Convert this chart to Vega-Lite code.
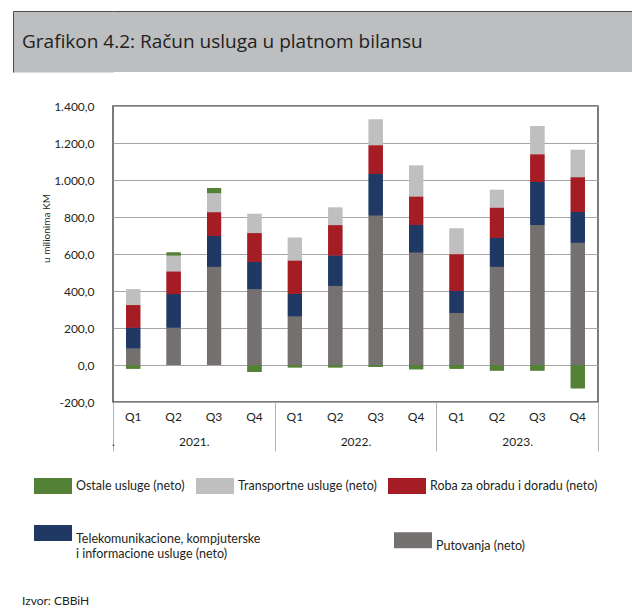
{
  "$schema": "https://vega.github.io/schema/vega-lite/v6.json",
  "padding": {"left": 12, "top": 10, "right": 0, "bottom": 0},
  "autosize": {"type": "pad"},
  "spacing": 24,
  "config": {
    "font": "Lato",
    "locale": {"number": {"decimal": ",", "thousands": ".", "grouping": [3], "currency": ["", ""], "minus": "-"}},
    "axis": {"labelColor": "#231f20", "titleColor": "#231f20"},
    "axisY": {"labelOverlap": false, "labelBound": false},
    "legend": {"labelColor": "#231f20"}
  },
  "vconcat": [
    {
      "width": 520,
      "height": 61,
      "view": {"fill": "#bcbec0", "stroke": null},
      "title": {
        "text": "Grafikon 4.2: Račun usluga u platnom bilansu",
        "orient": "top", "anchor": "start", "frame": "group",
        "offset": -56, "dx": -91, "fontSize": 19, "font": "Open Sans", "fontWeight": "normal",
        "color": "#231f20", "baseline": "alphabetic"
      },
      "data": {"values": [{"t": 0}]},
      "resolve": {"scale": {"y": "independent"}, "axis": {"y": "independent"}},
      "layer": [
        {
          "mark": {"type": "point", "opacity": 0},
          "encoding": {
            "x": {"field": "t", "type": "quantitative", "scale": {"domain": [0, 1]},
              "axis": {"orient": "top", "labels": false, "ticks": false, "grid": false, "title": null,
                "domainColor": "#4d4d4d", "domainWidth": 1}},
            "y": {"field": "t", "type": "quantitative", "scale": {"domain": [0, 1]},
              "axis": {"orient": "left", "offset": 50, "labels": false, "ticks": false, "grid": false, "title": null,
                "domainColor": "#bcbec0", "domainWidth": 101, "zindex": 0}}
          }
        },
        {
          "mark": {"type": "point", "opacity": 0},
          "encoding": {
            "y": {"field": "t", "type": "quantitative", "scale": {"domain": [0, 1]},
              "axis": {"orient": "left", "offset": 100, "labels": false, "ticks": true, "values": [1],
                "tickSize": -100, "tickColor": "#4d4d4d", "tickWidth": 1, "grid": false, "title": null,
                "domainColor": "#4d4d4d", "domainWidth": 1, "zindex": 1}}
          }
        }
      ]
    },
    {
      "width": 485,
      "height": 296,
      "view": {"stroke": "#4f4f4f", "strokeWidth": 1.5},
      "title": {
        "text": "Izvor: CBBiH", "orient": "bottom", "anchor": "start", "frame": "bounds",
        "offset": 36, "dx": -12, "fontSize": 12, "fontWeight": "normal", "color": "#231f20"
      },
      "data": {"values": [
        {"year": 2021, "period": "2021 Q1", "series": "Putovanja (neto)", "k": 1, "value": 90},
        {"year": 2021, "period": "2021 Q1", "series": "Telekomunikacione, kompjuterske i informacione usluge (neto)", "k": 2, "value": 112},
        {"year": 2021, "period": "2021 Q1", "series": "Roba za obradu i doradu (neto)", "k": 3, "value": 122},
        {"year": 2021, "period": "2021 Q1", "series": "Transportne usluge (neto)", "k": 4, "value": 85},
        {"year": 2021, "period": "2021 Q1", "series": "Ostale usluge (neto)", "k": 5, "value": -20},
        {"year": 2021, "period": "2021 Q2", "series": "Putovanja (neto)", "k": 1, "value": 202},
        {"year": 2021, "period": "2021 Q2", "series": "Telekomunikacione, kompjuterske i informacione usluge (neto)", "k": 2, "value": 181},
        {"year": 2021, "period": "2021 Q2", "series": "Roba za obradu i doradu (neto)", "k": 3, "value": 123},
        {"year": 2021, "period": "2021 Q2", "series": "Transportne usluge (neto)", "k": 4, "value": 86},
        {"year": 2021, "period": "2021 Q2", "series": "Ostale usluge (neto)", "k": 5, "value": 16},
        {"year": 2021, "period": "2021 Q3", "series": "Putovanja (neto)", "k": 1, "value": 531},
        {"year": 2021, "period": "2021 Q3", "series": "Telekomunikacione, kompjuterske i informacione usluge (neto)", "k": 2, "value": 166},
        {"year": 2021, "period": "2021 Q3", "series": "Roba za obradu i doradu (neto)", "k": 3, "value": 129},
        {"year": 2021, "period": "2021 Q3", "series": "Transportne usluge (neto)", "k": 4, "value": 103},
        {"year": 2021, "period": "2021 Q3", "series": "Ostale usluge (neto)", "k": 5, "value": 27},
        {"year": 2021, "period": "2021 Q4", "series": "Putovanja (neto)", "k": 1, "value": 410},
        {"year": 2021, "period": "2021 Q4", "series": "Telekomunikacione, kompjuterske i informacione usluge (neto)", "k": 2, "value": 148},
        {"year": 2021, "period": "2021 Q4", "series": "Roba za obradu i doradu (neto)", "k": 3, "value": 155},
        {"year": 2021, "period": "2021 Q4", "series": "Transportne usluge (neto)", "k": 4, "value": 104},
        {"year": 2021, "period": "2021 Q4", "series": "Ostale usluge (neto)", "k": 5, "value": -38},
        {"year": 2022, "period": "2022 Q1", "series": "Putovanja (neto)", "k": 1, "value": 263},
        {"year": 2022, "period": "2022 Q1", "series": "Telekomunikacione, kompjuterske i informacione usluge (neto)", "k": 2, "value": 122},
        {"year": 2022, "period": "2022 Q1", "series": "Roba za obradu i doradu (neto)", "k": 3, "value": 180},
        {"year": 2022, "period": "2022 Q1", "series": "Transportne usluge (neto)", "k": 4, "value": 123},
        {"year": 2022, "period": "2022 Q1", "series": "Ostale usluge (neto)", "k": 5, "value": -13},
        {"year": 2022, "period": "2022 Q2", "series": "Putovanja (neto)", "k": 1, "value": 428},
        {"year": 2022, "period": "2022 Q2", "series": "Telekomunikacione, kompjuterske i informacione usluge (neto)", "k": 2, "value": 164},
        {"year": 2022, "period": "2022 Q2", "series": "Roba za obradu i doradu (neto)", "k": 3, "value": 164},
        {"year": 2022, "period": "2022 Q2", "series": "Transportne usluge (neto)", "k": 4, "value": 95},
        {"year": 2022, "period": "2022 Q2", "series": "Ostale usluge (neto)", "k": 5, "value": -13},
        {"year": 2022, "period": "2022 Q3", "series": "Putovanja (neto)", "k": 1, "value": 808},
        {"year": 2022, "period": "2022 Q3", "series": "Telekomunikacione, kompjuterske i informacione usluge (neto)", "k": 2, "value": 225},
        {"year": 2022, "period": "2022 Q3", "series": "Roba za obradu i doradu (neto)", "k": 3, "value": 155},
        {"year": 2022, "period": "2022 Q3", "series": "Transportne usluge (neto)", "k": 4, "value": 139},
        {"year": 2022, "period": "2022 Q3", "series": "Ostale usluge (neto)", "k": 5, "value": -10},
        {"year": 2022, "period": "2022 Q4", "series": "Putovanja (neto)", "k": 1, "value": 608},
        {"year": 2022, "period": "2022 Q4", "series": "Telekomunikacione, kompjuterske i informacione usluge (neto)", "k": 2, "value": 150},
        {"year": 2022, "period": "2022 Q4", "series": "Roba za obradu i doradu (neto)", "k": 3, "value": 153},
        {"year": 2022, "period": "2022 Q4", "series": "Transportne usluge (neto)", "k": 4, "value": 167},
        {"year": 2022, "period": "2022 Q4", "series": "Ostale usluge (neto)", "k": 5, "value": -23},
        {"year": 2023, "period": "2023 Q1", "series": "Putovanja (neto)", "k": 1, "value": 281},
        {"year": 2023, "period": "2023 Q1", "series": "Telekomunikacione, kompjuterske i informacione usluge (neto)", "k": 2, "value": 119},
        {"year": 2023, "period": "2023 Q1", "series": "Roba za obradu i doradu (neto)", "k": 3, "value": 199},
        {"year": 2023, "period": "2023 Q1", "series": "Transportne usluge (neto)", "k": 4, "value": 139},
        {"year": 2023, "period": "2023 Q1", "series": "Ostale usluge (neto)", "k": 5, "value": -20},
        {"year": 2023, "period": "2023 Q2", "series": "Putovanja (neto)", "k": 1, "value": 531},
        {"year": 2023, "period": "2023 Q2", "series": "Telekomunikacione, kompjuterske i informacione usluge (neto)", "k": 2, "value": 157},
        {"year": 2023, "period": "2023 Q2", "series": "Roba za obradu i doradu (neto)", "k": 3, "value": 163},
        {"year": 2023, "period": "2023 Q2", "series": "Transportne usluge (neto)", "k": 4, "value": 96},
        {"year": 2023, "period": "2023 Q2", "series": "Ostale usluge (neto)", "k": 5, "value": -30},
        {"year": 2023, "period": "2023 Q3", "series": "Putovanja (neto)", "k": 1, "value": 756},
        {"year": 2023, "period": "2023 Q3", "series": "Telekomunikacione, kompjuterske i informacione usluge (neto)", "k": 2, "value": 234},
        {"year": 2023, "period": "2023 Q3", "series": "Roba za obradu i doradu (neto)", "k": 3, "value": 149},
        {"year": 2023, "period": "2023 Q3", "series": "Transportne usluge (neto)", "k": 4, "value": 153},
        {"year": 2023, "period": "2023 Q3", "series": "Ostale usluge (neto)", "k": 5, "value": -30},
        {"year": 2023, "period": "2023 Q4", "series": "Putovanja (neto)", "k": 1, "value": 661},
        {"year": 2023, "period": "2023 Q4", "series": "Telekomunikacione, kompjuterske i informacione usluge (neto)", "k": 2, "value": 167},
        {"year": 2023, "period": "2023 Q4", "series": "Roba za obradu i doradu (neto)", "k": 3, "value": 187},
        {"year": 2023, "period": "2023 Q4", "series": "Transportne usluge (neto)", "k": 4, "value": 148},
        {"year": 2023, "period": "2023 Q4", "series": "Ostale usluge (neto)", "k": 5, "value": -126}
      ]},
      "resolve": {"scale": {"x": "independent", "color": "independent"}, "axis": {"x": "independent"}, "legend": {"color": "independent"}},
      "layer": [
        {
          "mark": {"type": "bar"},
          "encoding": {
            "x": {"field": "period", "type": "nominal", "sort": null,
              "scale": {"paddingInner": 0.65, "paddingOuter": 0.325},
              "axis": {"orient": "bottom", "domain": false, "ticks": false, "grid": false, "title": null,
                "labelExpr": "split(datum.label, ' ')[1]", "labelAngle": 0, "labelPadding": 9, "labelFontSize": 12}},
            "y": {"field": "value", "type": "quantitative", "stack": "zero",
              "scale": {"domain": [-200, 1400], "nice": false},
              "axis": {"values": [-200, 0, 200, 400, 600, 800, 1000, 1200, 1400], "format": ",.1f",
                "labelOverlap": false, "domain": false, "ticks": false, "labelPadding": 19, "labelFontSize": 12,
                "gridColor": "#a6a6a6", "gridWidth": 1,
                "title": "u milionima KM", "titleFontSize": 10, "titleFontWeight": "normal",
                "titleAngle": 270, "titleX": -67, "titleY": 122, "titleAlign": "center", "titleBaseline": "middle"}},
            "color": {"field": "series", "type": "nominal",
              "scale": {"domain": ["Ostale usluge (neto)", "Transportne usluge (neto)", "Roba za obradu i doradu (neto)", "Telekomunikacione, kompjuterske i informacione usluge (neto)", "Putovanja (neto)"],
                "range": ["#538135", "#bfbfbf", "#a51c24", "#1f3864", "#767171"]},
              "legend": {"values": ["Ostale usluge (neto)", "Transportne usluge (neto)", "Roba za obradu i doradu (neto)"],
                "orient": "none", "legendX": -79, "legendY": 361, "direction": "horizontal", "columns": 3,
                "title": null, "symbolType": "M-1,-0.42H1V0.42H-1Z", "symbolSize": 1444, "symbolStrokeWidth": 0,
                "labelFontSize": 12.5, "labelOffset": 4, "labelLimit": 400, "columnPadding": 11}},
            "order": {"field": "k", "type": "quantitative"}
          }
        },
        {
          "mark": {"type": "bar"},
          "encoding": {
            "x": {"field": "period", "type": "nominal", "sort": null,
              "scale": {"paddingInner": 0.65, "paddingOuter": 0.325}, "axis": null},
            "y": {"field": "value", "type": "quantitative", "stack": "zero",
              "axis": {"values": [-200, 0, 200, 400, 600, 800, 1000, 1200, 1400], "format": ",.1f",
                "labelOverlap": false, "domain": false, "ticks": false, "labelPadding": 19, "labelFontSize": 12,
                "gridColor": "#a6a6a6", "gridWidth": 1,
                "title": "u milionima KM", "titleFontSize": 10, "titleFontWeight": "normal",
                "titleAngle": 270, "titleX": -67, "titleY": 122, "titleAlign": "center", "titleBaseline": "middle"}},
            "color": {"field": "series", "type": "nominal",
              "scale": {"domain": ["Ostale usluge (neto)", "Transportne usluge (neto)", "Roba za obradu i doradu (neto)", "Telekomunikacione, kompjuterske i informacione usluge (neto)", "Putovanja (neto)"],
                "range": ["#538135", "#bfbfbf", "#a51c24", "#1f3864", "#767171"]},
              "legend": {"values": ["Telekomunikacione, kompjuterske i informacione usluge (neto)", "Putovanja (neto)"],
                "orient": "none", "legendX": -79, "legendY": 408, "direction": "horizontal", "columns": 2,
                "title": null, "symbolType": "M-1,-0.42H1V0.42H-1Z", "symbolSize": 1444, "symbolStrokeWidth": 0,
                "labelFontSize": 12.5, "labelOffset": 4, "labelLimit": 400, "columnPadding": 133, "labelBaseline": "top",
                "labelExpr": "indexof(datum.label, 'Tele') == 0 ? ['Telekomunikacione, kompjuterske', 'i informacione usluge (neto)'] : datum.label"}},
            "order": {"field": "k", "type": "quantitative"}
          }
        },
        {
          "mark": {"type": "text", "text": ""},
          "encoding": {
            "x": {"field": "year", "type": "nominal",
              "scale": {"paddingInner": 0, "paddingOuter": 0},
              "axis": {"orient": "bottom", "domain": false, "ticks": true, "tickBand": "extent",
                "tickColor": "#b3b3b3", "tickSize": 49, "tickWidth": 1, "grid": false, "title": null,
                "labelExpr": "datum.label + '.'", "labelAngle": 0, "labelPadding": -15, "labelFontSize": 12}}
          }
        }
      ]
    }
  ]
}
